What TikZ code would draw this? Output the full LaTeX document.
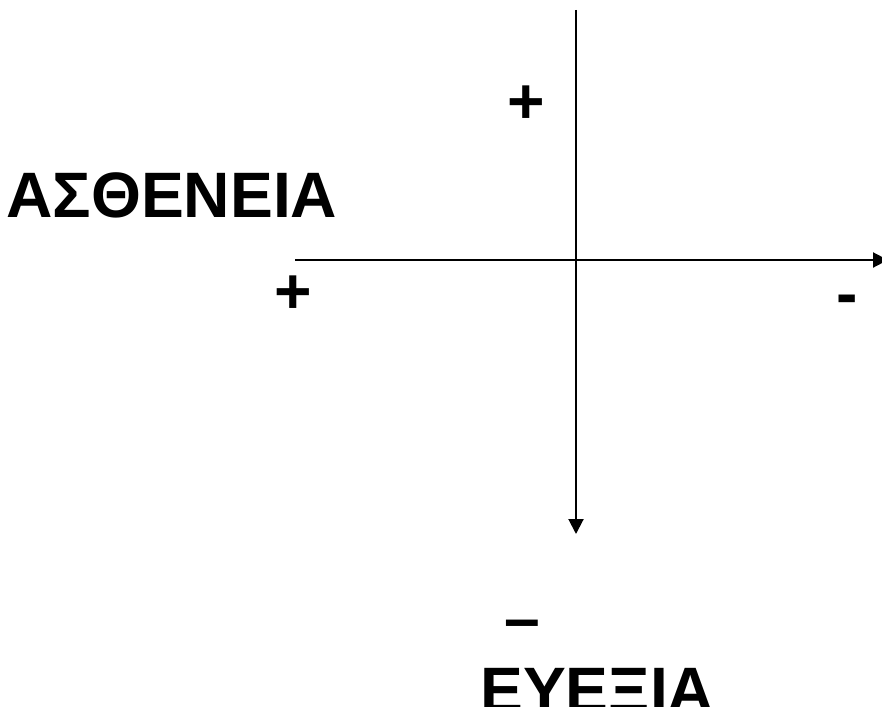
\documentclass[tikz,border=0pt]{standalone}
\usepackage{fontspec}
\setmainfont{Liberation Sans}
\usetikzlibrary{arrows.meta}
\begin{document}
\begin{tikzpicture}[x=1pt,y=-1pt,
  lbl/.style={font=\fontsize{64.2}{70}\selectfont\bfseries, inner sep=0pt},
  axis/.style={line width=2pt, -{Triangle[length=15pt,width=15pt]}}]
\useasboundingbox (0,0) rectangle (882,706);
\begin{scope}
\clip (0,0) rectangle (882,706);
\coordinate (vtop) at (576,10);
\coordinate (vbot) at (576,534);
\coordinate (hleft) at (295,260);
\coordinate (hright) at (888,260);
\draw[axis] (vtop) -- (vbot);
\draw[axis] (hleft) -- (hright);
\node[lbl] (ptop) at (526,105) {+};
\node[lbl] (pleft) at (293,295) {+};
\node[lbl] (mright) at (847,305) {-};
\node[lbl] (mbot) at (522,630) {–};
\node[lbl, anchor=base west] (asth) at (6,217) {ΑΣΘΕΝΕΙΑ};
\node[lbl, anchor=base west] (eyex) at (480,712) {ΕΥΕΞΙΑ};
\end{scope}
\end{tikzpicture}
\end{document}
